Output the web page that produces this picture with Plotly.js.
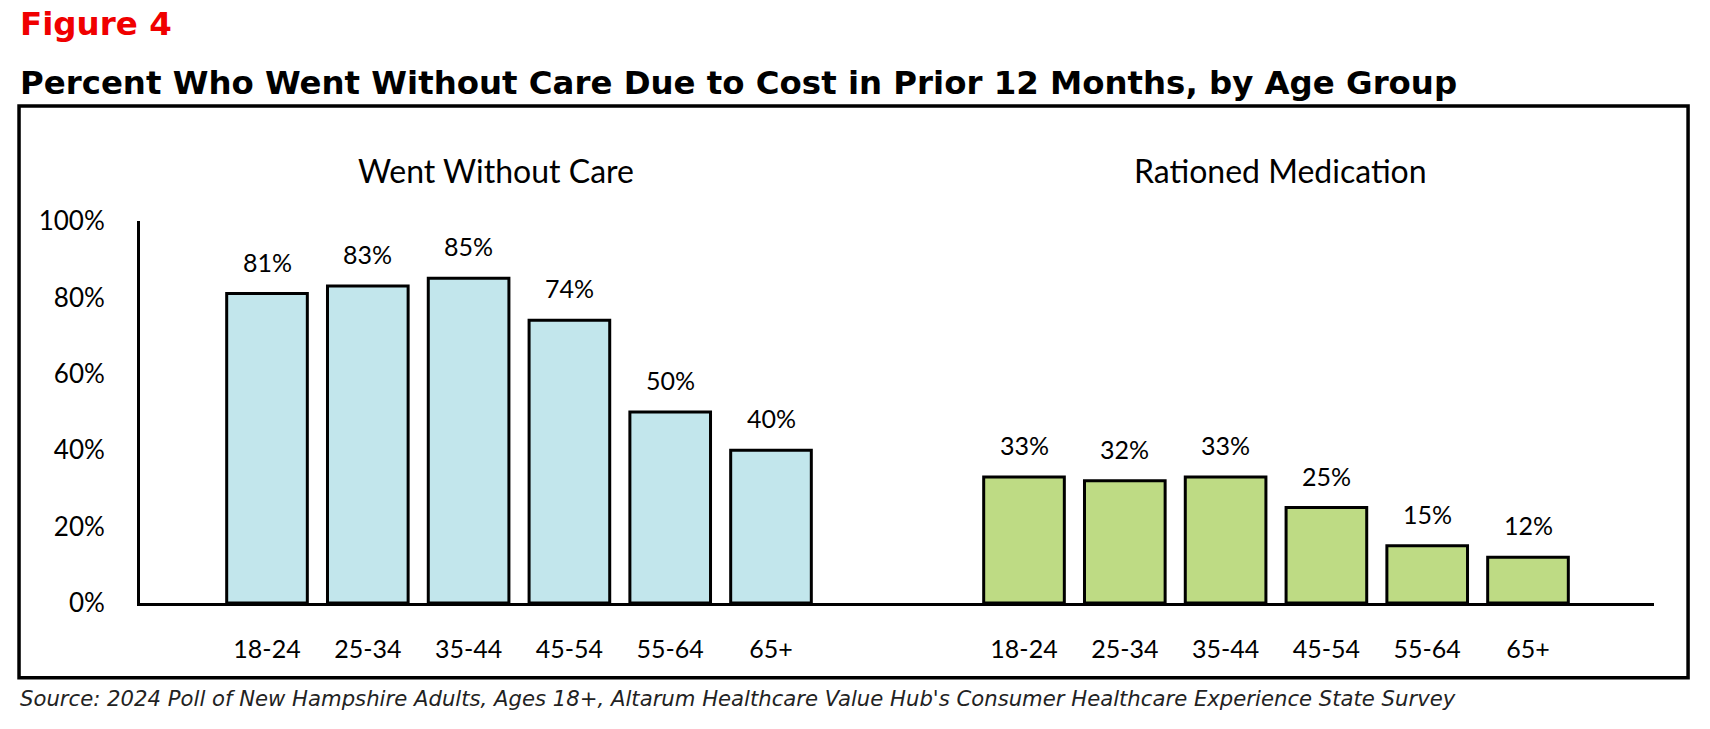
<!DOCTYPE html>
<html>
<head>
<meta charset="utf-8">
<script src="https://cdn.plot.ly/plotly-3.0.1.min.js"></script>
<style>html,body{margin:0;padding:0;background:#fff;}#chart{width:1710px;height:729px;}</style>
</head>
<body>
<div id="chart"></div>
<script>
const ageGroups = ['18-24', '25-34', '35-44', '45-54', '55-64', '65+'];
const wentWithoutCare = [81, 83, 85, 74, 50, 40];
const rationedMedication = [33, 32, 33, 25, 15, 12];
const panelTitles = ['Went Without Care', 'Rationed Medication'];
const yTicks = [0, 20, 40, 60, 80, 100];
const figureLabel = 'Figure 4';
const chartTitle = 'Percent Who Went Without Care Due to Cost in Prior 12 Months, by Age Group';
const sourceNote = "Source: 2024 Poll of New Hampshire Adults, Ages 18+, Altarum Healthcare Value Hub's Consumer Healthcare Experience State Survey";

const FONT = 'Lato, "Open Sans", sans-serif';
const HEAD = '"DejaVu Sans", Lato, sans-serif';

const traces = [
  {type: 'bar', x: ageGroups, y: wentWithoutCare, xaxis: 'x', yaxis: 'y', width: 0.8,
   marker: {color: '#c2e6ec', line: {color: '#000', width: 3}}, hoverinfo: 'skip'},
  {type: 'bar', x: ageGroups, y: rationedMedication, xaxis: 'x2', yaxis: 'y', width: 0.8,
   marker: {color: '#bedb84', line: {color: '#000', width: 3}}, hoverinfo: 'skip'}
];

const valueLabels = [];
[[wentWithoutCare, 'x'], [rationedMedication, 'x2']].forEach(([vals, xr]) => {
  vals.forEach((v, i) => valueLabels.push({
    x: ageGroups[i], y: v, xref: xr, yref: 'y', text: v + '%', showarrow: false,
    yanchor: 'bottom', yshift: 15, font: {family: FONT, size: 25, color: '#000'}
  }));
});

const textAnns = [
  {text: panelTitles[0], xref: 'paper', yref: 'paper', x: 0.2353, y: 1.131, xanchor: 'center', yanchor: 'middle', showarrow: false,
   font: {family: FONT, size: 32, color: '#000'}},
  {text: panelTitles[1], xref: 'paper', yref: 'paper', x: 0.7536, y: 1.131, xanchor: 'center', yanchor: 'middle', showarrow: false,
   font: {family: FONT, size: 32, color: '#000'}},
  {text: '<b>' + figureLabel + '</b>', xref: 'paper', yref: 'paper', x: -0.0808, y: 1.515, xanchor: 'left', yanchor: 'middle', showarrow: false,
   font: {family: HEAD, size: 32.5, color: '#f00000'}},
  {text: '<b>' + chartTitle + '</b>', xref: 'paper', yref: 'paper', x: -0.0808, y: 1.362, xanchor: 'left', yanchor: 'middle', showarrow: false,
   font: {family: HEAD, size: 32.4, color: '#000'}},
  {text: '<i>' + sourceNote + '</i>', xref: 'paper', yref: 'paper', x: -0.0808, y: -0.249, xanchor: 'left', yanchor: 'middle', showarrow: false,
   font: {family: HEAD, size: 21.2, color: '#222'}}
];

const axisFont = {family: FONT, size: 25, color: '#000'};

const layout = {
  width: 1710, height: 729,
  margin: {l: 139.6, r: 56, t: 221, b: 126, pad: 0},
  paper_bgcolor: '#fff', plot_bgcolor: '#fff',
  showlegend: false,
  font: {family: FONT, color: '#000'},
  xaxis: {domain: [0, 0.5], anchor: 'y', type: 'category', range: [-1.26, 6.25], showline: true, linecolor: '#000', linewidth: 3,
          showgrid: false, zeroline: false, ticks: '', ticklabelstandoff: 22, tickfont: axisFont, fixedrange: true},
  xaxis2: {domain: [0.5, 1], anchor: 'y', type: 'category', range: [-1.26, 6.25], showline: true, linecolor: '#000', linewidth: 3,
           showgrid: false, zeroline: false, ticks: '', ticklabelstandoff: 22, tickfont: axisFont, fixedrange: true},
  yaxis: {range: [0, 100], tickvals: yTicks, ticktext: yTicks.map(v => v + '%'), showline: true, linecolor: '#000', linewidth: 3,
          showgrid: false, zeroline: false, ticks: '', ticklabelstandoff: 27, tickfont: {family: FONT, size: 26, color: '#000'}, fixedrange: true},
  shapes: [
    {type: 'rect', xref: 'paper', yref: 'paper', x0: -0.0799, x1: 1.0225, y0: -0.196, y1: 1.301,
     line: {color: '#000', width: 3.5}, fillcolor: 'rgba(0,0,0,0)', layer: 'below'}
  ],
  annotations: valueLabels.concat(textAnns)
};

Plotly.newPlot('chart', traces, layout, {displayModeBar: false, staticPlot: true});
</script>
</body>
</html>
